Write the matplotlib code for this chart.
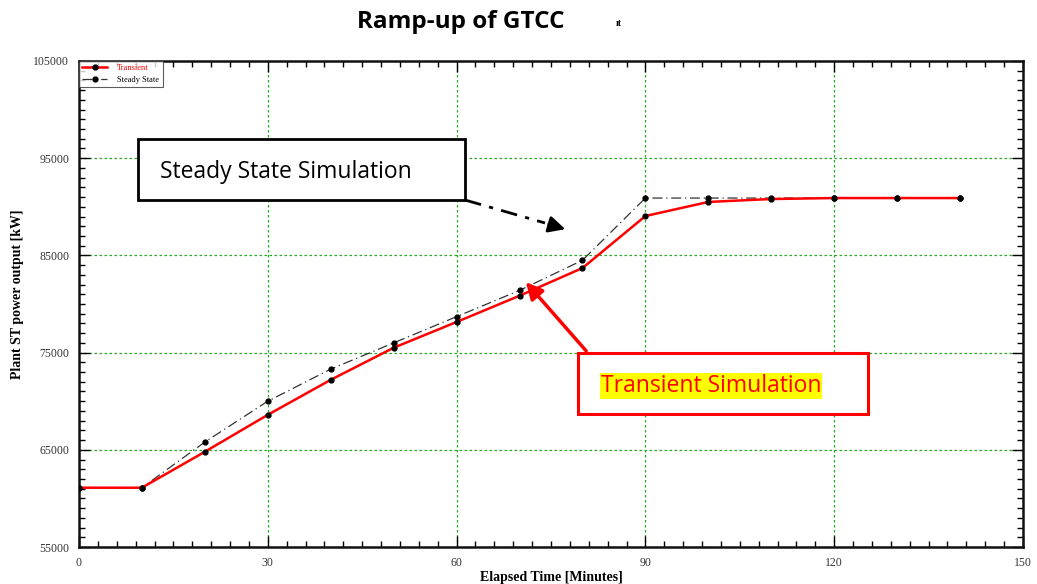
import matplotlib
matplotlib.use("Agg")
import matplotlib.pyplot as plt
from matplotlib.patches import Rectangle
from matplotlib.ticker import MultipleLocator

# Data
time_min = [0, 10, 20, 30, 40, 50, 60, 70, 80, 90, 100, 110, 120, 130, 140]
transient_kw = [61100, 61100, 64800, 68600, 72200, 75500, 78150, 80850, 83700,
                89050, 90500, 90800, 90900, 90900, 90900]
steady_kw = [61100, 61100, 65800, 70000, 73300, 76000, 78700, 81400, 84500,
             90900, 90900, 90900, 90900, 90900, 90900]
y_ticks = [55000, 65000, 75000, 85000, 95000, 105000]

W, H = 1037, 584
fig = plt.figure(figsize=(W / 100, H / 100), dpi=100)
ax = fig.add_axes([79 / W, 1 - 547 / H, (1023 - 79) / W, (547 - 61) / H])

ax.plot(time_min, steady_kw, color="#333333", lw=0.9, ls=(0, (8, 3, 1, 3)),
        marker="o", ms=3.5, mfc="black", mec="black", label="Steady State", zorder=3)
ax.plot(time_min, transient_kw, color="red", lw=1.8, marker="o", ms=3.5,
        mfc="black", mec="black", label="Transient", zorder=4)

ax.set_xlim(0, 150)
ax.set_ylim(55000, 105000)
ax.xaxis.set_major_locator(MultipleLocator(30))
ax.xaxis.set_minor_locator(MultipleLocator(3))
ax.set_yticks(y_ticks)
ax.yaxis.set_minor_locator(MultipleLocator(1000))
ax.tick_params(which="both", direction="in", top=True, right=True,
               labelsize=8.5, labelcolor="#333333", width=1)
ax.tick_params(which="major", length=8, pad=7)
ax.tick_params(which="minor", length=4)
for lab in ax.get_xticklabels() + ax.get_yticklabels():
    lab.set_family("Liberation Serif")
for sp in ax.spines.values():
    sp.set_linewidth(1.8)
    sp.set_color("#111111")
ax.grid(True, which="major", color="#22aa22", ls=(0, (2, 2)), lw=0.9)

ax.set_xlabel("Elapsed Time [Minutes]", family="Liberation Serif",
              fontweight="bold", fontsize=10, labelpad=2)
ax.set_ylabel("Plant ST power output [kW]", family="Liberation Serif",
              fontweight="bold", fontsize=10)
ax.yaxis.set_label_coords(-0.058, 0.52)

handles, labels = ax.get_legend_handles_labels()
leg = ax.legend(handles[::-1], labels[::-1], loc="upper left",
                prop={"family": "Liberation Serif", "size": 6},
                frameon=True, fancybox=False, borderpad=0.4, handlelength=3,
                borderaxespad=0, labelspacing=0.4, handletextpad=1.2)
leg.get_frame().set_edgecolor("#333333")
leg.get_frame().set_linewidth(0.8)
leg.get_texts()[0].set_color("red")

# Title
fig.text(461 / W, 1 - 22 / H, "Ramp-up of GTCC", ha="center", va="center",
         fontsize=17.5, fontweight="bold", family="Open Sans")
fig.text(619 / W, 1 - 23 / H, "ıt", ha="center", va="center",
         fontsize=7, fontweight="bold", family="Liberation Serif")

# Steady state callout
fig.patches.append(Rectangle((138 / W, 1 - 200 / H), (465 - 138) / W, (200 - 139) / H,
                             transform=fig.transFigure, fill=True, fc="white",
                             ec="black", lw=2, zorder=5))
fig.text(160 / W, 1 - 172 / H, "Steady State Simulation", ha="left", va="center",
         fontsize=16.5, family="Open Sans", zorder=6)
fig.add_artist(plt.Line2D([465 / W, 545 / W], [1 - 200 / H, 1 - 223 / H],
                          transform=fig.transFigure, color="black", lw=2,
                          ls=(0, (6, 3, 1.5, 3))))
ax.annotate("", xy=(568 / W, 1 - 230 / H), xycoords="figure fraction",
            xytext=(546 / W, 1 - 223.5 / H), textcoords="figure fraction",
            arrowprops=dict(arrowstyle="-|>,head_length=1.0,head_width=0.5",
                            color="black", lw=2))

# Transient callout
fig.patches.append(Rectangle((578 / W, 1 - 414 / H), (868 - 578) / W, (414 - 353) / H,
                             transform=fig.transFigure, fill=True, fc="white",
                             ec="red", lw=2.2, zorder=5))
fig.text(601 / W, 1 - 386 / H, "Transient Simulation", ha="left", va="center",
         fontsize=16.5, family="Open Sans", color="red", zorder=6,
         bbox=dict(fc="yellow", ec="none", pad=0.5))
ax.annotate("", xy=(524 / W, 1 - 280 / H), xycoords="figure fraction",
            xytext=(588 / W, 1 - 353 / H), textcoords="figure fraction",
            arrowprops=dict(arrowstyle="-|>,head_length=1.0,head_width=0.5",
                            color="red", lw=2.5))

fig.savefig("out.png", dpi=100)
